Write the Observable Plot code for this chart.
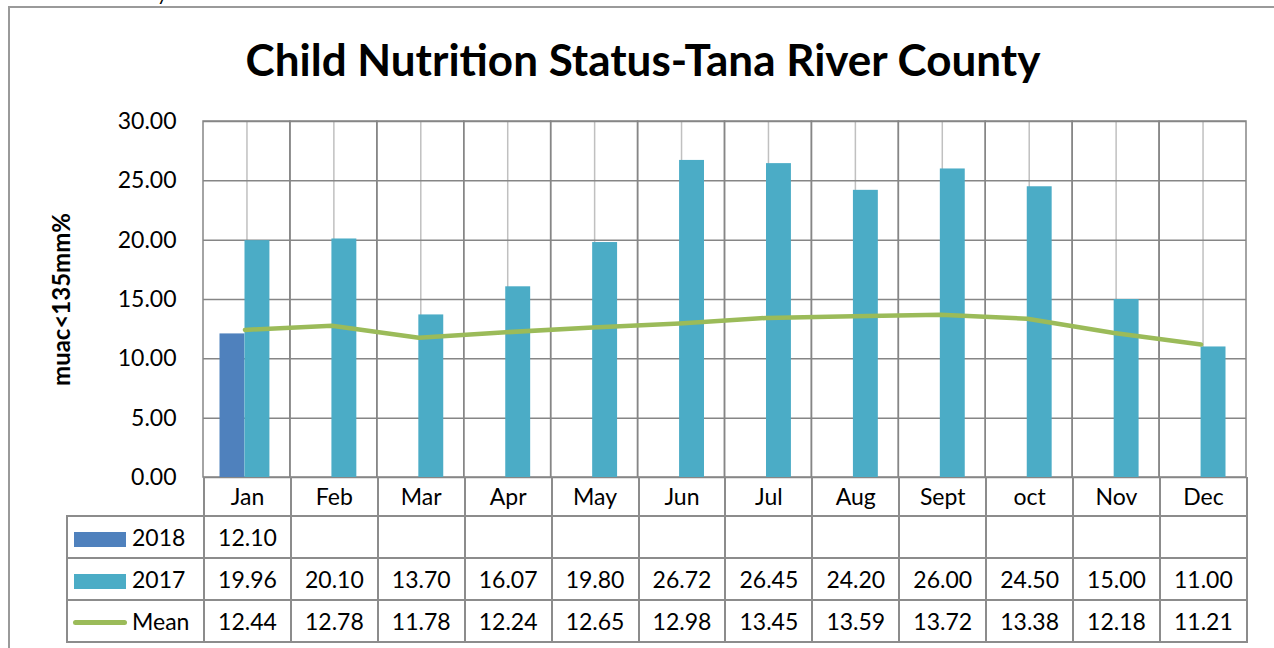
<!DOCTYPE html>
<html><head><meta charset="utf-8">
<script src="https://cdn.jsdelivr.net/npm/d3@7"></script>
<script src="https://cdn.jsdelivr.net/npm/@observablehq/plot@0.6"></script>
<style>
body{margin:0;width:1274px;height:648px;overflow:hidden;position:relative;background:#fff;font-family:Lato,sans-serif;color:#000;}
#frame{position:absolute;left:8px;top:6px;width:1400px;height:800px;border:2px solid #9a9a9a;box-sizing:border-box;}
#frag{position:absolute;left:157px;top:-17px;font-size:20px;line-height:20px;}
#title{position:absolute;left:0;width:1286px;top:37px;text-align:center;font-weight:bold;font-size:44px;line-height:44px;white-space:nowrap;}
#chart{position:absolute;left:0;top:100px;}
#tbl{position:absolute;left:66px;top:477px;border-collapse:collapse;table-layout:fixed;font-size:23px;}
#tbl td{border:2px solid #8c8c8c;text-align:center;vertical-align:middle;padding:0;white-space:nowrap;}
#tbl tr.hdr td{height:38px;border-top:none;}
#tbl tr.hdr td.blank{border:none;}
#tbl tr.row td{height:40px;}
#tbl td.leg{text-align:left;}
.sw{display:inline-block;width:52px;height:15px;margin-left:6px;margin-right:6px;vertical-align:-1px;}
.ln{display:inline-block;width:54px;height:5px;border-radius:3px;margin-left:5px;margin-right:5px;vertical-align:5px;}
</style></head>
<body>
<div id="frame"></div>
<div id="frag">y</div>
<div id="title"></div>
<div id="chart"></div>
<table id="tbl"></table>
<script>
const titleText = "Child Nutrition Status-Tana River County";
const yLabel = "muac<135mm%";
const months = ["Jan","Feb","Mar","Apr","May","Jun","Jul","Aug","Sept","oct","Nov","Dec"];
const values2018 = [12.10, null, null, null, null, null, null, null, null, null, null, null];
const values2017 = [19.96, 20.10, 13.70, 16.07, 19.80, 26.72, 26.45, 24.20, 26.00, 24.50, 15.00, 11.00];
const meanValues = [12.44, 12.78, 11.78, 12.24, 12.65, 12.98, 13.45, 13.59, 13.72, 13.38, 12.18, 11.21];
const yTicks = [0, 5, 10, 15, 20, 25, 30];
const seriesNames = ["2018", "2017", "Mean"];
const seriesColors = ["#4f81bd", "#4bacc6", "#9bbb59"];

document.getElementById("title").textContent = titleText;

const rows = months.map((m, i) => ({month: m, v2018: values2018[i], v2017: values2017[i], mean: meanValues[i]}));

const W = 1274, ML = 203, MR = 28, MT = 21, MB = 2, H = 379;
const chart = Plot.plot({
  width: W, height: H, marginLeft: ML, marginRight: MR, marginTop: MT, marginBottom: MB,
  style: {fontFamily: "Lato, sans-serif", fontSize: "23px", color: "#000", background: "transparent", overflow: "visible"},
  x: {type: "band", domain: months, padding: 0, round: false, axis: null},
  y: {domain: [0, 30], ticks: yTicks, tickFormat: d3.format(".2f"), tickSize: 0, tickPadding: 27, label: null},
  marks: [
    Plot.ruleX(months, {x: d => d, stroke: "#c0c0c0", strokeWidth: 1.5}),
    Plot.ruleY(yTicks, {y: d => d, stroke: "#868686", strokeWidth: 1.5}),
    Plot.cell(months, {x: d => d, fill: "none", stroke: "#868686", strokeWidth: 1.5, inset: 0}),
    Plot.barY(rows.filter(d => d.v2018 != null), {x: "month", y: "v2018", fill: seriesColors[0], insetLeft: 16.5, insetRight: 45.5}),
    Plot.barY(rows, {x: "month", y: "v2017", fill: seriesColors[1], insetLeft: 41.5, insetRight: 20.5}),
    Plot.line(rows, {x: "month", y: "mean", stroke: seriesColors[2], strokeWidth: 4.5, dx: -2}),
    Plot.text([yLabel], {frameAnchor: "left", textAnchor: "middle", dx: -141, rotate: -90, fontWeight: "bold", fontSize: 24, text: d => d})
  ]
});
document.getElementById("chart").appendChild(chart);

// data table aligned with the chart's x scale
const xs = chart.scale("x");
const step = xs.step ?? (W - ML - MR) / months.length;
const firstCol = ML - 66;
const fmt = d3.format(".2f");
const tbl = document.getElementById("tbl");
tbl.style.width = (firstCol + step * months.length) + "px";
let html = `<colgroup><col style="width:${firstCol}px">` + months.map(() => `<col style="width:${step}px">`).join("") + `</colgroup>`;
html += `<tr class="hdr"><td class="blank"></td>` + months.map(m => `<td>${m}</td>`).join("") + `</tr>`;
const seriesValues = [values2018, values2017, meanValues];
seriesNames.forEach((name, s) => {
  const sw = s === 2
    ? `<span class="ln" style="background:${seriesColors[s]}"></span>`
    : `<span class="sw" style="background:${seriesColors[s]}"></span>`;
  html += `<tr class="row"><td class="leg">${sw}${name}</td>` +
    seriesValues[s].map(v => `<td>${v == null ? "" : fmt(v)}</td>`).join("") + `</tr>`;
});
tbl.innerHTML = html;
</script>
</body></html>
